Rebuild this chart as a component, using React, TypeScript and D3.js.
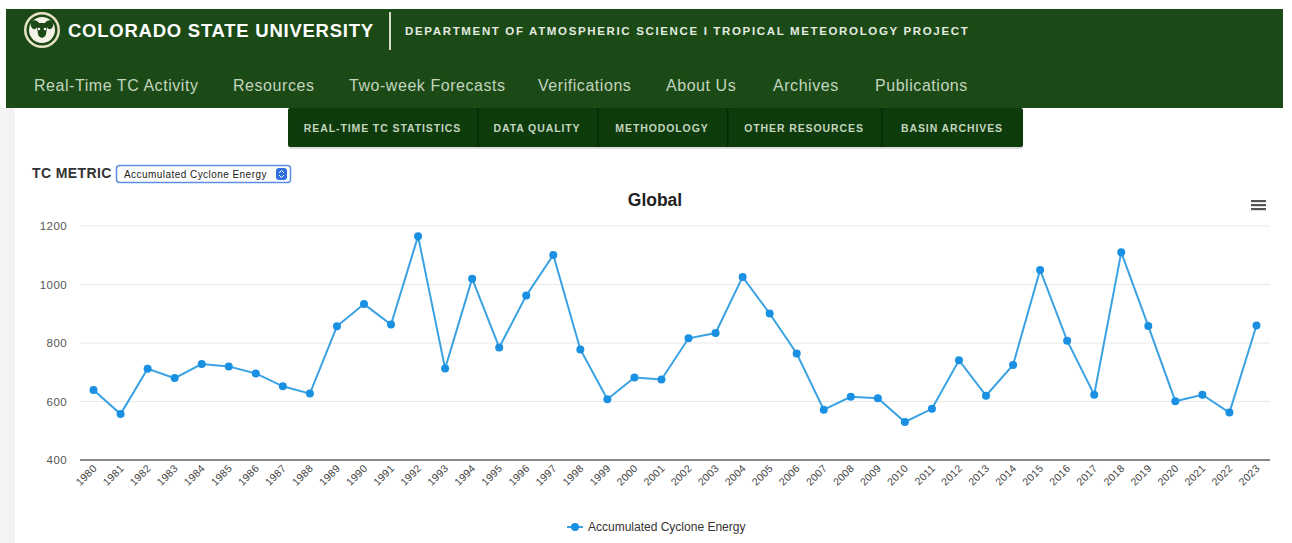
import React from "react";
import * as d3 from "d3";

const years: string[] = d3.range(1980, 2024).map(String);
const ace: number[] = [
  639, 557, 712, 680, 728, 720, 696, 652, 627, 857, 933, 863, 1165, 713, 1020,
  785, 962, 1101, 778, 608, 682, 675, 816, 834, 1026, 901, 764, 572, 616, 611,
  530, 575, 741, 620, 725, 1050, 808, 623, 1110, 858, 601, 623, 562, 860,
];
const yTicks: number[] = [400, 600, 800, 1000, 1200];
const navItems: string[] = [
  "Real-Time TC Activity", "Resources", "Two-week Forecasts", "Verifications",
  "About Us", "Archives", "Publications",
];
const navX: number[] = [34, 233, 349, 538, 666, 773, 875];
const tabs: string[] = [
  "REAL-TIME TC STATISTICS", "DATA QUALITY", "METHODOLOGY", "OTHER RESOURCES", "BASIN ARCHIVES",
];
const tabEdges: number[] = [288, 477, 597, 727, 881, 1023];

const W = 1292, H = 543;
const plot = { left: 80, right: 1270, top: 226, bottom: 460 };

export default function App() {
  const x = d3.scaleBand<string>().domain(years).range([plot.left, plot.right]);
  const y = d3.scaleLinear().domain([400, 1200]).range([plot.bottom, plot.top]);
  const cx = (yr: string) => (x(yr) as number) + x.bandwidth() / 2;
  const line = d3
    .line<number>()
    .x((_, i) => cx(years[i]))
    .y((d) => y(d));
  const font = "'Liberation Sans', Arial, Helvetica, sans-serif";
  const green = "#1b4a16";
  const tabGreen = "#0e3b0b";
  const navColor = "#c3d4bf";

  return (
    <svg
      width={W}
      height={H}
      style={{ position: "absolute", left: 0, top: 0, background: "#fff" }}
      fontFamily={font}
    >
      <rect x={0} y={0} width={W} height={H} fill="#fff" />
      <rect x={0} y={108} width={15} height={H - 108} fill="#f3f3f3" />
      {/* header */}
      <rect x={6} y={9} width={1277} height={99} fill={green} />
      <g transform="translate(42,30)">
        <circle r={18} fill="#e9e3c6" />
        <circle r={15.5} fill={green} />
        <circle r={13} fill="#f4f1e6" />
        <path
          d="M-11,-4 C-13,-10 -6,-12 -3,-7 L3,-7 C6,-12 13,-10 11,-4 C10,0 6,0 5,-3 L4,4 C3,9 -3,9 -4,4 L-5,-3 C-6,0 -10,0 -11,-4 Z"
          fill={green}
        />
        <circle cx={-3} cy={-1} r={1.3} fill="#f4f1e6" />
        <circle cx={3} cy={-1} r={1.3} fill="#f4f1e6" />
      </g>
      <text x={68} y={37} fill="#fff" fontSize={18.5} fontWeight="bold" letterSpacing={0.75}>
        COLORADO STATE UNIVERSITY
      </text>
      <rect x={389} y={12} width={2} height={38} fill="#d9d9cc" />
      <text x={405} y={35} fill="#e4ebe0" fontSize={11.5} fontWeight="bold" letterSpacing={1.65}>
        DEPARTMENT OF ATMOSPHERIC SCIENCE I TROPICAL METEOROLOGY PROJECT
      </text>
      {navItems.map((n, i) => (
        <text key={n} x={navX[i]} y={91} fill={navColor} fontSize={16} letterSpacing={0.55}>
          {n}
        </text>
      ))}
      {/* tabs */}
      <rect x={289} y={110} width={734} height={39} fill="#bbb" opacity={0.5} rx={3} />
      <rect x={288} y={108} width={735} height={39} fill={tabGreen} rx={2} />
      {tabEdges.slice(1, -1).map((e) => (
        <rect key={e} x={e} y={108} width={1.5} height={39} fill="#062a04" />
      ))}
      {tabs.map((t, i) => (
        <text
          key={t}
          x={(tabEdges[i] + tabEdges[i + 1]) / 2}
          y={132}
          textAnchor="middle"
          fill={navColor}
          fontSize={10.5}
          fontWeight="bold"
          letterSpacing={0.9}
        >
          {t}
        </text>
      ))}
      {/* TC metric */}
      <text x={32} y={178} fill="#333" fontSize={14} fontWeight="bold" letterSpacing={0.4}>
        TC METRIC
      </text>
      <rect x={116.5} y={165.5} width={174} height={17} rx={3} fill="#fff" stroke="#5b8fe6" strokeWidth={1.5} />
      <text x={124} y={178} fill="#222" fontSize={10} letterSpacing={0.45}>
        Accumulated Cyclone Energy
      </text>
      <rect x={276} y={168} width={11} height={12} rx={3} fill="#2f6fe0" />
      <path d="M279,173 L281.5,170.5 L284,173 M279,175 L281.5,177.5 L284,175" stroke="#fff" strokeWidth={1} fill="none" />
      {/* chart title */}
      <text x={655} y={206} textAnchor="middle" fill="#222" fontSize={17.5} fontWeight="bold">
        Global
      </text>
      {/* hamburger */}
      {[0, 1, 2].map((k) => (
        <rect key={k} x={1251} y={200 + k * 4} width={15} height={2.2} fill="#555" />
      ))}
      {/* grid */}
      {yTicks.map((t) => (
        <g key={t}>
          {t !== 400 && (
            <line x1={plot.left} x2={plot.right} y1={y(t)} y2={y(t)} stroke="#e8e8e8" strokeWidth={1} />
          )}
          <text x={67} y={y(t) + 4} textAnchor="end" fill="#555" fontSize={11.5} letterSpacing={0.4}>
            {t}
          </text>
        </g>
      ))}
      <line x1={plot.left} x2={plot.right} y1={plot.bottom} y2={plot.bottom} stroke="#888" strokeWidth={2} />
      {/* x labels */}
      {years.map((yr) => (
        <text
          key={yr}
          transform={`translate(${cx(yr) + 4},${plot.bottom + 9}) rotate(-45)`}
          textAnchor="end"
          fill="#444"
          fontSize={10.5}
          letterSpacing={0.3}
        >
          {yr}
        </text>
      ))}
      {/* series */}
      <path d={line(ace) || ""} fill="none" stroke="#3aa2e3" strokeWidth={2} />
      {ace.map((v, i) => (
        <circle key={years[i]} cx={cx(years[i])} cy={y(v)} r={4} fill="#1a90e2" />
      ))}
      {/* legend */}
      <line x1={567} x2={583} y1={527} y2={527} stroke="#3aa2e3" strokeWidth={2} />
      <circle cx={575} cy={527} r={4} fill="#1a90e2" />
      <text x={588} y={531} fill="#333" fontSize={12}>
        Accumulated Cyclone Energy
      </text>
    </svg>
  );
}
